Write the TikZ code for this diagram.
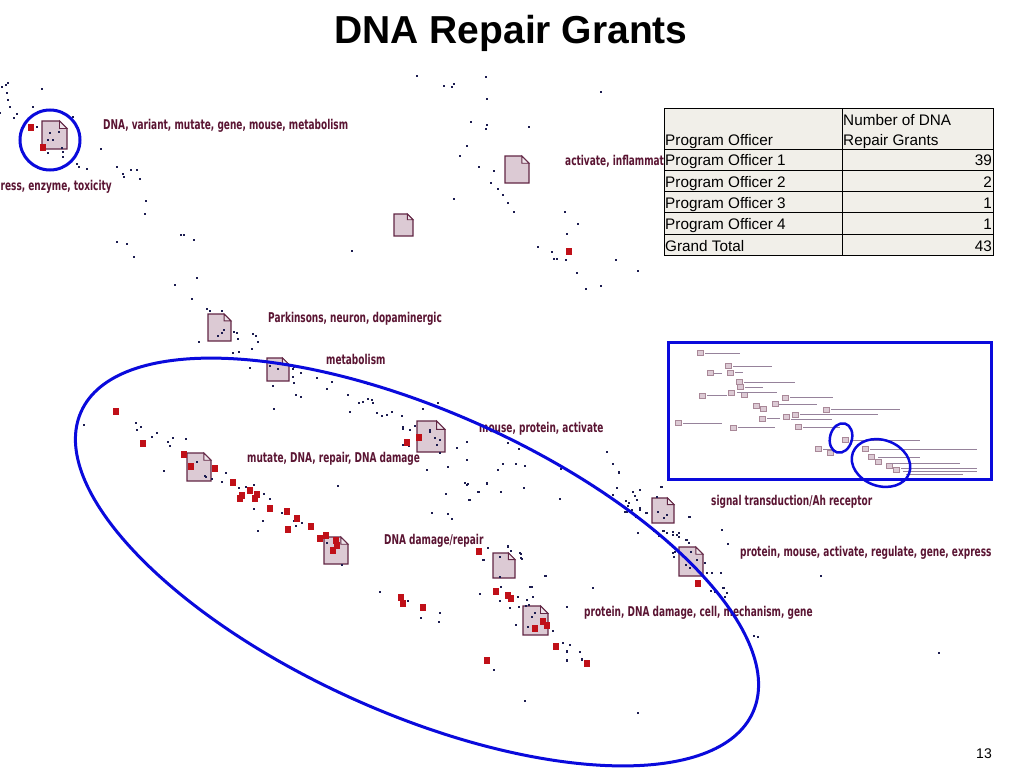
\documentclass[tikz,border=0pt]{standalone}
\usepackage{fontspec}
\setmainfont{Liberation Sans}
\newfontfamily\labfont{DejaVu Sans}[FakeStretch=0.665]
\definecolor{lab}{RGB}{90,20,50}
\definecolor{docf}{RGB}{220,202,212}
\definecolor{docl}{RGB}{238,228,234}
\definecolor{docd}{RGB}{98,38,68}
\definecolor{redsq}{RGB}{192,16,24}
\definecolor{dotc}{RGB}{28,28,80}
\definecolor{ringc}{RGB}{10,10,220}
\definecolor{tabf}{RGB}{241,239,233}
\definecolor{minic}{RGB}{150,130,155}
\newcommand\docicon[4]{%
  \pgfmathsetmacro\fw{0.3*#3}%
  \filldraw[docd,fill=docf,line width=1.1] (#1,#2) -- ({#1+#3-\fw},#2) -- ({#1+#3},{#2+\fw}) -- ({#1+#3},{#2+#4}) -- (#1,{#2+#4}) -- cycle;
  \filldraw[docd,fill=docl,line width=0.9] ({#1+#3-\fw},#2) -- ({#1+#3-\fw},{#2+\fw}) -- ({#1+#3},{#2+\fw}) -- cycle;}
\newcommand\minidoc[2]{\filldraw[docd!55,fill=docf,line width=0.35] (#1,#2) rectangle ++(6,5);}
\tikzset{
  lbl/.style={font=\labfont\bfseries\fontsize{13.5}{13.5}\selectfont, text=lab, inner sep=0, anchor=base west},
  tt/.style={font=\fontsize{15.3}{15.3}\selectfont, inner sep=0, anchor=base west},
  ttr/.style={tt, anchor=base east},
  ring/.style={draw=ringc, line width=3},
  minit/.style={draw=minic, line width=1, opacity=0.55}
}
\begin{document}
\begin{tikzpicture}[x=1pt,y=-1pt]
\useasboundingbox[fill=white] (0,0) rectangle (1024,768);
% document icons
\docicon{42}{121}{25}{28}
\docicon{505}{156}{24}{27}
\docicon{394}{214}{19}{22}
\docicon{208}{314}{23}{27}
\docicon{267}{358}{22}{23}
\docicon{417}{421}{28}{31}
\docicon{187}{453}{24}{28}
\docicon{324}{537}{24}{27}
\docicon{493}{553}{22}{25}
\docicon{523}{606}{25}{29}
\docicon{652}{498}{22}{25}
\docicon{679}{547}{24}{29}
% small dots
\foreach \x/\y in {2/87,6/85,8/83,7/93,8/100,10/107,0/113,14/118,17/114,33/107,42/89,37/127,50/133,53/140,48/140,59/132,48/153,63/152,63/157,62/148,73/117,77/164,79/167,87/169,101/149,117/167,123/174,124/177,131/170,137/170,140/179,146/201,145/214,117/242,127/244,134/257,181/235,184/235,194/240,175/285,192/299,197/278,
417/76,444/86,452/87,454/84,486/77,487/99,471/122,487/125,486/129,529/127,467/146,460/156,479/167,494/171,491/183,498/189,503/195,508/203,514/212,454/199,565/212,578/224,567/234,538/247,552/252,554/259,557/259,566/260,616/260,577/273,638/271,586/289,601/286,601/92,352/251,
207/309,210/311,222/311,199/342,222/333,224/330,218/336,234/332,237/333,238/339,253/334,256/336,258/342,252/349,233/353,239/352,249/360,250/368,270/366,278/369,273/386,293/369,293/377,301/373,296/395,301/397,317/378,332/382,327/389,348/395,360/381,368/384,363/402,359/403,368/399,372/400,373/403,350/412,274/409,377/413,382/416,387/415,392/412,402/416,403/427,403/429,410/430,415/426,423/409,403/445,409/446,440/453,448/467,457/448,467/442,467/460,427/470,465/483,468/484,487/483,438/403,430/432,435/438,437/445,
84/425,136/423,141/427,137/430,152/437,157/433,168/442,173/438,170/446,186/439,164/471,206/477,212/479,222/482,226/473,239/488,246/487,254/485,264/494,270/499,254/509,282/513,263/521,258/531,296/526,294/521,302/523,294/367,296/395,294/383,205/476,197/462,
338/486,327/543,342/565,446/494,465/483,467/485,479/492,487/484,470/500,501/492,524/488,560/499,617/488,619/473,613/495,627/512,432/513,448/514,452/519,508/547,511/551,521/554,522/559,484/560,500/557,500/577,545/576,530/587,593/588,501/587,480/594,500/601,513/597,518/597,510/608,527/600,526/606,529/605,533/597,519/607,516/625,528/627,532/617,535/613,553/631,563/643,567/652,570/645,580/652,567/661,582/659,494/670,525/701,567/607,380/592,408/601,421/618,440/613,439/622,
467/442,469/500,508/443,519/449,503/464,516/464,525/466,498/470,478/492,561/469,607/452,613/464,619/472,626/501,633/492,640/490,635/496,628/506,632/510,640/508,636/517,661/487,657/497,646/513,667/515,689/517,638/533,654/531,659/536,664/531,673/535,679/533,679/537,686/540,673/547,673/553,681/554,691/552,722/530,728/544,705/563,712/573,721/573,711/591,723/588,725/597,546/576,532/587,520/553,521/558,508/546,483/560,488/548,
662/487,637/500,629/503,625/512,640/510,637/516,647/513,690/517,663/531,667/533,673/532,677/535,687/540,689/543,675/552,674/557,707/573,715/592,724/588,727/593,754/636,758/637,821/576,939/653,638/713,563/643,570/645,567/651,580/652,567/660,582/660,
690/568,697/560,686/565,658/512,664/518,430/430,440/440}
  \fill[dotc] (\x-1,\y-1) rectangle ++(2,2);
% red squares
\foreach \x/\y in {31/127,43/147,569/251,116/411,143/443,184/454,191/466,215/468,233/482,242/495,240/498,250/490,257/494,255/498,270/508,287/511,297/518,288/529,311/526,320/538,326/535,336/540,337/545,333/550,479/551,401/597,403/603,423/607,496/591,508/595,511/598,535/628,543/621,547/625,556/646,587/663,487/660,407/442,419/437,698/583}
  \fill[redsq] (\x-3,\y-3.5) rectangle ++(6,7);
% labels
\node[lbl] (l1) at (103,129) {DNA, variant, mutate, gene, mouse, metabolism};
\node[lbl, anchor=base east] (l2) at (112,190) {ress, enzyme, toxicity};
\node[lbl] (l3) at (565,165) {activate, inflammat};
\node[lbl] (l4) at (268,322) {Parkinsons, neuron, dopaminergic};
\node[lbl] (l5) at (326,364) {metabolism};
\node[lbl] (l6) at (479,432) {mouse, protein, activate};
\node[lbl] (l7) at (247,462) {mutate, DNA, repair, DNA damage};
\node[lbl] (l8) at (384,544) {DNA damage/repair};
\node[lbl] (l9) at (584,616) {protein, DNA damage, cell, mechanism, gene};
\node[lbl] (l10) at (711,505) {signal transduction/Ah receptor};
\node[lbl] (l11) at (740,556) {protein, mouse, activate, regulate, gene, express};
% rings
\draw[ring] (50,140) circle [radius=30];
\draw[ring, rotate around={-24.1:(417,562)}] (417,562) ellipse [x radius=368, y radius=151];
% title and page number
\node[font=\bfseries\fontsize{39}{39}\selectfont, anchor=base, inner sep=0] (title) at (511,44) {DNA Repair Grants};
\node[font=\fontsize{14}{14}\selectfont, anchor=base east, inner sep=0] (pg) at (992,758) {13};
% table
\filldraw[fill=tabf, draw=black, line width=1] (664,108) rectangle (993,255.5);
\draw[line width=1] (842,108) -- (842,255.5);
\foreach \y in {149,170.3,191.6,212.9,234.2} \draw[line width=1] (664,\y) -- (993,\y);
\node[tt] (h1) at (665,145) {Program Officer};
\node[tt] (h2) at (843,125) {Number of DNA};
\node[tt] (h3) at (843,145) {Repair Grants};
\node[tt] (r1) at (665,165.5) {Program Officer 1};
\node[tt] (r2) at (665,187) {Program Officer 2};
\node[tt] (r3) at (665,208.3) {Program Officer 3};
\node[tt] (r4) at (665,229.6) {Program Officer 4};
\node[tt] (r5) at (665,251) {Grand Total};
\node[ttr] (n1) at (992,165.5) {39};
\node[ttr] (n2) at (992,187) {2};
\node[ttr] (n3) at (992,208.3) {1};
\node[ttr] (n4) at (992,229.6) {1};
\node[ttr] (n5) at (992,251) {43};
% inset
\fill[white] (668,342) rectangle (991,479);
\foreach \x/\y in {697/350,725/363,707/370,727/370,736/379,737/384,699/393,728/390,741/392,782/395,753/403,760/406,772/401,823/407,792/412,759/416,783/414,675/420,730/425,795/424,842/437,815/446,827/450,862/446,868/454,875/459,886/463,893/467}
  \minidoc{\x}{\y}
\foreach \a/\b/\y in {705/740/353,733/772/366,714/722/373,735/743/372,744/795/382,745/763/387,707/727/395,737/777/392,790/833/397,779/817/404,831/900/409,800/878/414,767/780/418,791/832/419,683/722/423,738/775/427,803/840/427,850/920/440,823/835/449,870/977/449,878/920/457,890/960/463,901/977/468,903/977/471,906/963/474}
  \draw[minit] (\a,\y) -- (\b,\y);
\draw[ring] (668,342) rectangle (991,479);
\draw[draw=ringc, line width=2.5, rotate around={-15:(841,438)}] (841,438) ellipse [x radius=11, y radius=15];
\draw[draw=ringc, line width=2.5, rotate around={-20:(881,463)}] (881,463) ellipse [x radius=30, y radius=23];
\end{tikzpicture}
\end{document}
